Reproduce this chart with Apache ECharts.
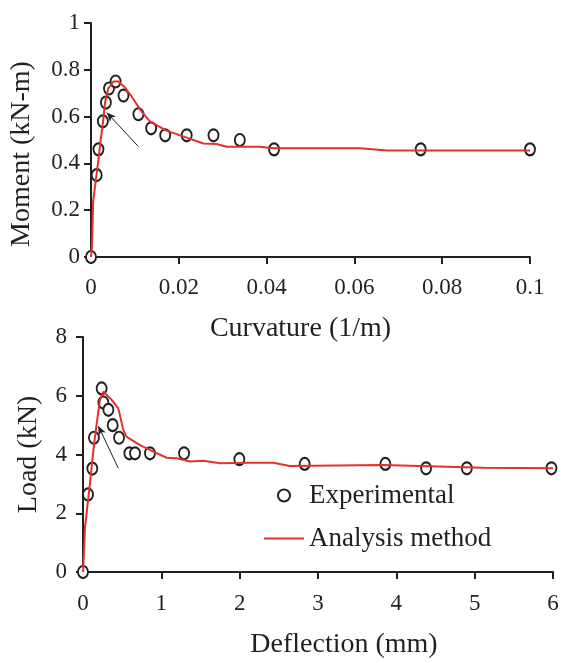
<!DOCTYPE html>
<html>
<head>
<meta charset="utf-8">
<script src="https://cdn.jsdelivr.net/npm/echarts@6/dist/echarts.min.js"></script>
<style>
  html, body { margin: 0; padding: 0; background: #fff; }
  #chart { width: 566px; height: 663px; }
</style>
</head>
<body>
<div id="chart"></div>
<script>
// top panel: moment vs curvature
const curvExp = [0, 0.0013, 0.0017, 0.0027, 0.0034, 0.0041, 0.0056, 0.0074, 0.0108, 0.0137, 0.0169, 0.0218, 0.0279, 0.0339, 0.0417, 0.0751, 0.1]
const momentExp = [0, 0.35, 0.46, 0.58, 0.66, 0.72, 0.75, 0.69, 0.61, 0.55, 0.52, 0.52, 0.52, 0.50, 0.46, 0.46, 0.46]
const curvAna = [0, 0.0002, 0.0005, 0.0011, 0.0017, 0.0022, 0.0027, 0.0032, 0.0039, 0.0051, 0.0062, 0.0077, 0.0093, 0.0112, 0.0134, 0.0172, 0.0218, 0.0256, 0.0286, 0.0309, 0.0385, 0.0415, 0.0613, 0.0674, 0.1]
const momentAna = [0, 0.04, 0.24, 0.33, 0.415, 0.50, 0.57, 0.66, 0.72, 0.75, 0.75, 0.725, 0.685, 0.63, 0.58, 0.54, 0.51, 0.485, 0.483, 0.471, 0.471, 0.465, 0.465, 0.455, 0.455]
const momentArrow = [[0.0108, 0.472], [0.0036, 0.617]]

// bottom panel: load vs deflection
const deflExp = [0, 0.064, 0.119, 0.14, 0.238, 0.26, 0.324, 0.379, 0.46, 0.592, 0.664, 0.855, 1.29, 1.996, 2.83, 3.86, 4.38, 4.90, 5.98]
const loadExp = [0, 2.64, 3.52, 4.57, 6.25, 5.77, 5.52, 5.0, 4.57, 4.04, 4.04, 4.04, 4.04, 3.84, 3.68, 3.68, 3.53, 3.53, 3.53]
const deflAna = [0, 0.004, 0.026, 0.055, 0.089, 0.119, 0.153, 0.187, 0.217, 0.26, 0.366, 0.451, 0.515, 0.558, 0.728, 0.898, 1.068, 1.196, 1.366, 1.536, 1.749, 2.13, 2.43, 2.64, 3.83, 5.11, 6.0]
const loadAna = [0, 0.18, 1.54, 2.22, 3.02, 3.81, 4.6, 5.29, 5.86, 6.14, 5.86, 5.57, 4.83, 4.6, 4.32, 4.10, 3.89, 3.87, 3.76, 3.79, 3.70, 3.72, 3.72, 3.61, 3.64, 3.55, 3.53]
const loadArrow = [[0.451, 3.53], [0.196, 4.97]]

const FONT = 'Liberation Serif'
const INK = '#231f20'
const RED = '#e2312d'

const zip = (xs, ys) => xs.map((x, i) => [x, ys[i]])

const axisCommon = {
  type: 'value',
  axisLine: { show: true, lineStyle: { color: INK, width: 2 } },
  axisTick: { show: true, length: 7, lineStyle: { color: INK, width: 2 } },
  splitLine: { show: false },
  nameLocation: 'middle',
}
const nameStyle = (padding) => ({ fontFamily: FONT, fontSize: 28, color: INK, padding })
const labelStyle = (margin) => ({ fontFamily: FONT, fontSize: 23, color: INK, margin })

const arrowLine = (pts) => ({
  silent: true,
  symbol: ['none', 'arrow'],
  symbolSize: [6, 9],
  label: { show: false },
  lineStyle: { color: INK, width: 1, type: 'solid' },
  data: [[{ coord: pts[0] }, { coord: pts[1] }]],
})

const scatterStyle = {
  type: 'scatter',
  symbol: 'emptyCircle',
  symbolSize: [10, 12],
  itemStyle: { color: INK, borderColor: INK, borderWidth: 2, opacity: 1 },
  z: 2,
}
const lineStyle = {
  type: 'line',
  symbol: 'none',
  showSymbol: false,
  lineStyle: { color: RED, width: 2 },
  itemStyle: { color: RED },
  z: 3,
}

const chart = echarts.init(document.getElementById('chart'))
chart.setOption({
  animation: false,
  backgroundColor: '#fff',
  textStyle: { fontFamily: FONT },
  grid: [
    { left: 91, top: 23, width: 439, height: 234 },
    { left: 83, top: 337, width: 470, height: 235 },
  ],
  xAxis: [
    { ...axisCommon, gridIndex: 0, min: 0, max: 0.1, interval: 0.02,
      name: 'Curvature (1/m)', nameGap: 58, nameTextStyle: nameStyle([0, 20, 0, 0]), axisLabel: labelStyle(19) },
    { ...axisCommon, gridIndex: 1, min: 0, max: 6, interval: 1,
      name: 'Deflection (mm)', nameGap: 59, nameTextStyle: nameStyle([0, 0, 0, 52]), axisLabel: labelStyle(20) },
  ],
  yAxis: [
    { ...axisCommon, gridIndex: 0, min: 0, max: 1, interval: 0.2,
      name: 'Moment (kN-m)', nameGap: 55, nameTextStyle: nameStyle([0, 28, 0, 0]), axisLabel: labelStyle(11) },
    { ...axisCommon, gridIndex: 1, min: 0, max: 8, interval: 2,
      name: 'Load (kN)', nameGap: 40, nameTextStyle: nameStyle(0), axisLabel: labelStyle(16) },
  ],
  legend: {
    orient: 'vertical',
    left: 264,
    top: 482,
    padding: 0,
    itemWidth: 40,
    itemHeight: 12,
    itemGap: 16,
    textStyle: { fontFamily: FONT, fontSize: 27, color: INK },
    data: [
      { name: 'Experimental', icon: 'emptyCircle', itemStyle: { opacity: 1 } },
      { name: 'Analysis method', icon: 'path://M0,0 L40,0 L40,2 L0,2 Z', itemStyle: { color: RED } },
    ],
  },
  series: [
    { ...scatterStyle, name: 'Experimental', xAxisIndex: 0, yAxisIndex: 0, data: zip(curvExp, momentExp) },
    { ...lineStyle, name: 'Analysis method', xAxisIndex: 0, yAxisIndex: 0, data: zip(curvAna, momentAna),
      markLine: arrowLine(momentArrow) },
    { ...scatterStyle, name: 'Experimental', xAxisIndex: 1, yAxisIndex: 1, data: zip(deflExp, loadExp) },
    { ...lineStyle, name: 'Analysis method', xAxisIndex: 1, yAxisIndex: 1, data: zip(deflAna, loadAna),
      markLine: arrowLine(loadArrow) },
  ],
})
</script>
</body>
</html>
